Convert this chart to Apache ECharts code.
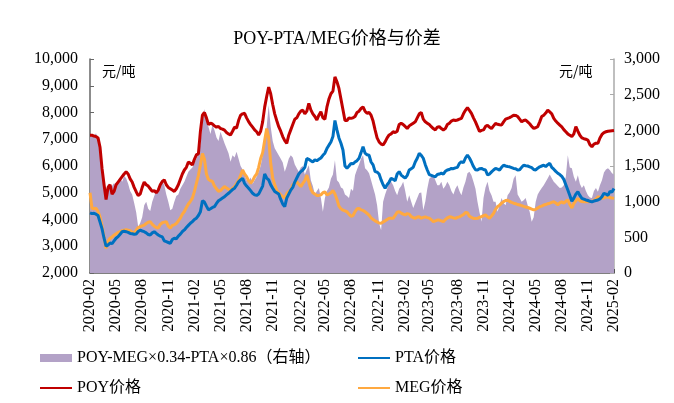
<!DOCTYPE html>
<html>
<head>
<meta charset="utf-8">
<script src="https://cdn.jsdelivr.net/npm/echarts@6/dist/echarts.min.js"></script>
<style>
  html, body { margin: 0; padding: 0; background: #fff; }
  #main { width: 674px; height: 403px; }
</style>
</head>
<body>
<div id="main"></div>
<script>
// weekly samples, first Monday of Feb 2020 -> first Monday of Feb 2025
let dates = [];
for (let w = 0; w < 262; w++) {
  let d = new Date(Date.UTC(2020, 1, 3) + w * 7 * 86400000);
  dates.push(d.toISOString().slice(0, 10));
}

let spread = [
  1900, 1950, 1920, 1960, 1880, 1750, 1550, 1300, 1150, 1250, 1180, 1220, 1260, 1200, 1300, 1340, 1280, 1360, 1330, 1250,
  1150, 1100, 980, 850, 650, 700, 780, 950, 1000, 900, 870, 1000, 1080, 1150, 1190, 1270, 1300, 1230, 1100, 1000,
  880, 900, 1000, 1080, 1100, 1180, 1230, 1280, 1350, 1420, 1450, 1480, 1550, 1600, 1680, 1800, 2100, 2300, 2150, 2050,
  1950, 2080, 2000, 1900, 1850, 1980, 1900, 1820, 1750, 1680, 1560, 1650, 1620, 1700, 1600, 1500, 1450, 1370, 1300, 1280,
  1340, 1250, 1300, 1350, 1420, 1500, 1650, 1800, 2050, 2350, 2050, 1850, 1750, 1700, 1650, 1600, 1550, 1420, 1500, 1600,
  1650, 1620, 1520, 1470, 1420, 1480, 1500, 1380, 1450, 1510, 1300, 1220, 1100, 1150, 1190, 1050, 860, 1050, 1150, 1200,
  1320, 1380, 1580, 1300, 1270, 1200, 1180, 1100, 1080, 1050, 1180, 1150, 1370, 1450, 1520, 1600, 1650, 1470, 1440, 1400,
  1300, 1200, 1100, 950, 700, 600, 1000, 1100, 1180, 1260, 1280, 1230, 1150, 1090, 1180, 1220, 1280, 1150, 1000, 1090,
  1000, 910, 980, 1050, 1120, 1130, 880, 1000, 1180, 1320, 1350, 1370, 1300, 1230, 1230, 1280, 1180, 1220, 1280, 1230,
  1150, 1100, 1180, 1230, 1150, 1090, 1200, 1280, 1400, 1420, 1370, 1280, 1180, 1000, 850, 720, 1050, 1200, 1280, 1150,
  1090, 1000, 1000, 860, 950, 1050, 980, 950, 1090, 1130, 1190, 1320, 1370, 1100, 1050, 1000, 1020, 1050, 950, 860,
  720, 780, 1000, 1100, 1150, 1190, 1230, 1280, 1330, 1380, 1330, 1280, 1250, 1220, 1190, 1200, 1230, 1350, 1650, 1480,
  1470, 1350, 1280, 1370, 1250, 1190, 1230, 1150, 1090, 1060, 1050, 1150, 1190, 1140, 1230, 1300, 1410, 1450, 1470, 1440,
  1400, 1380
];

let pta = [
  4250, 4220, 4230, 4200, 4150, 3900, 3650, 3300, 3000, 3050, 3120, 3100, 3200, 3300, 3360, 3450, 3540, 3560, 3545, 3520,
  3480, 3470, 3450, 3460, 3550, 3600, 3570, 3545, 3500, 3440, 3420, 3500, 3545, 3480, 3420, 3380, 3350, 3200, 3170, 3140,
  3110, 3250, 3300, 3280, 3380, 3450, 3550, 3610, 3700, 3780, 3860, 3920, 4000, 4050, 4150, 4290, 4700, 4650, 4500, 4360,
  4400, 4450, 4480, 4600, 4700, 4750, 4800, 4850, 4920, 4980, 5050, 5120, 5170, 5280, 5410, 5480, 5540, 5350, 5250, 5170,
  5080, 4980, 4920, 4900, 4950, 5100, 5250, 5700, 5550, 5480, 5300, 5170, 5050, 5000, 4950, 4750, 4580, 4480, 4800, 4950,
  5100, 5200, 5400, 5550, 5700, 5790, 5850, 5950, 6280, 6250, 6200, 6150, 6230, 6200, 6250, 6300, 6400, 6480, 6650, 6780,
  6900, 7100, 7700, 7350, 7050, 6850, 6600, 6000, 5920, 6000, 6100, 6080, 6150, 6200, 6290, 6500, 6720, 6480, 6420, 6400,
  6150, 6040, 5790, 5770, 5700, 5480, 5300, 5170, 5300, 5400, 5540, 5500, 5450, 5700, 5790, 5660, 5600, 5550, 5650, 5850,
  5900, 5950, 6150, 6290, 6470, 6400, 6290, 6050, 5850, 5680, 5650, 5620, 5600, 5680, 5700, 5730, 5700, 5800, 5850, 5870,
  5910, 5900, 5930, 5950, 6100, 6160, 6120, 6300, 6410, 6300, 6150, 5980, 5860, 5850, 5900, 5910, 5870, 5850, 5670, 5700,
  5780, 5850, 5910, 5880, 5850, 5950, 6030, 6000, 5980, 5970, 5940, 5910, 5900, 5850, 5860, 5950, 6030, 6010, 6000, 5970,
  5940, 5870, 5850, 5920, 5970, 6000, 6030, 5980, 6050, 6100, 5950, 5880, 5800, 5730, 5680, 5610, 5500, 5300, 5100, 4900,
  4680, 4800, 4950, 5040, 4900, 4790, 4760, 4730, 4710, 4680, 4660, 4690, 4710, 4730, 4770, 4850, 4980, 4950, 4900, 5050,
  5030, 5160
];

let poy = [
  7150, 7150, 7120, 7100, 7050, 6700, 5900, 5300, 4750, 5200, 5300, 4950, 5050, 5300, 5400, 5500, 5600, 5700, 5780, 5700,
  5520, 5400, 5200, 5040, 4900, 4950, 5200, 5400, 5300, 5250, 5150, 5050, 5080, 5000, 5100, 5300, 5420, 5480, 5300, 5200,
  5150, 5100, 5050, 5150, 5300, 5500, 5700, 5850, 5950, 6150, 6100, 6040, 6250, 6420, 6450, 7300, 7900, 8000, 7800, 7550,
  7600, 7570, 7500, 7450, 7480, 7400, 7380, 7340, 7250, 7200, 7160, 7300, 7450, 7420, 7700, 7900, 7950, 7970, 7800, 7660,
  7550, 7450, 7350, 7280, 7160, 7300, 7650, 8200, 8600, 8950, 8700, 8300, 7950, 7700, 7470, 7300, 7100, 6950, 6850, 7150,
  7350, 7550, 7750, 7800, 7950, 8050, 8090, 7950, 8050, 8340, 8100, 7950, 7850, 7720, 7900, 8030, 7800, 7750, 8200, 8500,
  8700, 8800, 9330, 9150, 8900, 8500, 8100, 7700, 7700, 7800, 7780, 7800, 7850, 8000, 8050, 8150, 8210, 8050, 7970, 8000,
  7900, 7680, 7350, 7050, 6900, 6820, 6790, 6900, 7050, 7160, 7200, 7280, 7250, 7300, 7550, 7600, 7550, 7480, 7400, 7500,
  7550, 7600, 7650, 7800, 7950, 8000, 7750, 7650, 7600, 7550, 7470, 7400, 7350, 7450, 7470, 7400, 7350, 7400, 7550, 7600,
  7680, 7720, 7700, 7720, 7750, 7780, 7950, 8080, 8180, 8080, 7970, 7800, 7650, 7470, 7290, 7330, 7350, 7480, 7520, 7450,
  7400, 7500, 7590, 7560, 7540, 7530, 7650, 7750, 7780, 7810, 7850, 7900, 7890, 7850, 7750, 7650, 7700, 7720, 7650, 7580,
  7480, 7410, 7430, 7470, 7650, 7850, 7900, 7980, 8090, 8020, 7950, 7780, 7680, 7600, 7530, 7460, 7360, 7280, 7200, 7150,
  7100, 7200, 7470, 7300, 7150, 7050, 7020, 7000, 6970, 6800, 6720, 6820, 6850, 6850, 7050, 7180, 7250, 7280, 7300, 7310,
  7320, 7330
];

let meg = [
  5000, 4420, 4400, 4420, 4300, 4100, 3750, 3350, 2920, 3200, 3300, 3350, 3420, 3460, 3520, 3550, 3580, 3600, 3620, 3600,
  3580, 3530, 3480, 3600, 3700, 3730, 3760, 3790, 3850, 3900, 3920, 3820, 3750, 3700, 3680, 3820, 3880, 3900, 3920, 3750,
  3680, 3780, 3800, 3850, 3950, 4050, 4200, 4300, 4450, 4580, 4680, 4800, 5050, 5350, 5650, 6050, 6470, 6250, 5700, 5500,
  5450, 5420, 5250, 5150, 5050, 5080, 5160, 5230, 5180, 5130, 5100, 5170, 5230, 5350, 5460, 5650, 5850, 5700, 5600, 5450,
  5350, 5450, 5600, 5700, 5950, 6280, 6500, 6950, 7400, 7050, 6100, 5550, 5300, 5100, 5000, 4920, 4850, 4800, 4970, 5050,
  5110, 5300, 5370, 5410, 5320, 5230, 5350, 5450, 5660, 5400, 5130, 5000, 4950, 4900, 4900, 4920, 5000, 5030, 4920, 4950,
  5000, 5080, 4950, 4750, 4500, 4400, 4350, 4320, 4290, 4200, 4120, 4150, 4290, 4400, 4410, 4360, 4340, 4290, 4230, 4160,
  4060, 4000, 3950, 3910, 3870, 3860, 3910, 3950, 4000, 4045, 4050, 4045, 4150, 4270, 4290, 4240, 4200, 4170, 4220, 4200,
  4110, 4070, 4045, 4090, 4100, 4050, 4080, 4100, 4070, 4050, 3990, 3920, 3950, 3980, 3980, 3950, 3920, 4000, 4060, 4100,
  4090, 4060, 4045, 4080, 4100, 4140, 4180, 4260, 4250, 4120, 4080, 4045, 4040, 4045, 4080, 4110, 4140, 4170, 4100, 4050,
  4130, 4230, 4380, 4480, 4540, 4610, 4670, 4710, 4720, 4680, 4640, 4610, 4590, 4560, 4540, 4520, 4490, 4470, 4450, 4420,
  4390, 4360, 4380, 4430, 4480, 4500, 4540, 4560, 4590, 4610, 4640, 4666, 4620, 4550, 4620, 4660, 4610, 4680, 4730, 4560,
  4430, 4600, 4700, 4790, 4700, 4670, 4660, 4670, 4660, 4670, 4680, 4720, 4760, 4850, 4820, 4790, 4810, 4840, 4850, 4820,
  4800, 4790
];

let leftTicks = { min: 2000, max: 10000, interval: 1000 };
let rightTicks = { min: 0, max: 3000, interval: 500 };
let labelMonths = ['02', '05', '08', '11'];

let FONT = '"Liberation Serif", "Times New Roman", "Noto Sans CJK SC", serif';

function isQuarterTick(index, value) {
  let mm = value.slice(5, 7);
  let dd = +value.slice(8, 10);
  return labelMonths.indexOf(mm) >= 0 && dd <= 7;
}

let chartDom = document.getElementById('main');
let myChart = echarts.init(chartDom);

let names = ['POY-MEG×0.34-PTA×0.86（右轴）', 'PTA价格', 'POY价格', 'MEG价格'];
let colors = ['#b3a2c7', '#0070c0', '#c00000', '#ffa940'];

function legendAt(name, left, top, isArea) {
  return {
    data: [name],
    left: left,
    top: top,
    icon: 'rect',
    itemWidth: 32,
    itemHeight: isArea ? 8 : 2,
    itemGap: 0,
    padding: 0,
    textStyle: { fontFamily: FONT, fontSize: 16, color: '#000' }
  };
}

let option = {
  animation: false,
  color: colors,
  title: {
    text: 'POY-PTA/MEG价格与价差',
    left: 'center',
    top: 25,
    textStyle: { fontFamily: FONT, fontSize: 18, fontWeight: 'normal', color: '#000' }
  },
  legend: [
    legendAt(names[0], 40, 350, true),
    legendAt(names[1], 358, 350, false),
    legendAt(names[2], 40, 380, false),
    legendAt(names[3], 358, 380, false)
  ],
  grid: { left: 90, right: 60, top: 59, bottom: 130 },
  graphic: [
    { type: 'text', left: 102, top: 64, style: { text: '元/吨', font: '14px "Noto Sans CJK SC"', fill: '#000' } },
    { type: 'text', left: 559, top: 64, style: { text: '元/吨', font: '14px "Noto Sans CJK SC"', fill: '#000' } }
  ],
  xAxis: {
    type: 'category',
    data: dates,
    boundaryGap: false,
    axisLine: { lineStyle: { color: '#555', width: 1.5 } },
    axisTick: { interval: isQuarterTick, inside: true, length: 4, lineStyle: { color: '#555' } },
    axisLabel: {
      interval: isQuarterTick,
      rotate: 90,
      margin: 6,
      fontFamily: FONT,
      fontSize: 16,
      color: '#000',
      formatter: function (v) { return v.slice(0, 7); }
    },
    splitLine: { show: false }
  },
  yAxis: [
    {
      type: 'value',
      min: leftTicks.min,
      max: leftTicks.max,
      interval: leftTicks.interval,
      axisLine: { show: true, lineStyle: { color: '#666', width: 1.5 } },
      axisTick: { show: true, inside: true, length: 4, lineStyle: { color: '#666' } },
      axisLabel: {
        fontFamily: FONT,
        fontSize: 16,
        color: '#000',
        margin: 12,
        formatter: function (v) { return echarts.format.addCommas(v); }
      },
      splitLine: { show: false }
    },
    {
      type: 'value',
      min: rightTicks.min,
      max: rightTicks.max,
      interval: rightTicks.interval,
      axisLine: { show: true, lineStyle: { color: '#aaa', width: 1.5 } },
      axisTick: { show: true, inside: true, length: 4, lineStyle: { color: '#aaa' } },
      axisLabel: {
        fontFamily: FONT,
        fontSize: 16,
        color: '#000',
        margin: 10,
        formatter: function (v) { return echarts.format.addCommas(v); }
      },
      splitLine: { show: false }
    }
  ],
  series: [
    {
      name: names[0],
      type: 'line',
      yAxisIndex: 1,
      data: spread,
      showSymbol: false,
      lineStyle: { width: 0, color: '#b3a2c7' },
      areaStyle: { color: '#b3a2c7', opacity: 1 },
      z: 1
    },
    {
      name: names[1],
      type: 'line',
      data: pta,
      showSymbol: false,
      lineStyle: { width: 3, color: colors[1] },
      z: 3
    },
    {
      name: names[2],
      type: 'line',
      data: poy,
      showSymbol: false,
      lineStyle: { width: 3, color: colors[2] },
      z: 3
    },
    {
      name: names[3],
      type: 'line',
      data: meg,
      showSymbol: false,
      lineStyle: { width: 3, color: colors[3] },
      z: 2
    }
  ]
};

myChart.setOption(option);
</script>
</body>
</html>
